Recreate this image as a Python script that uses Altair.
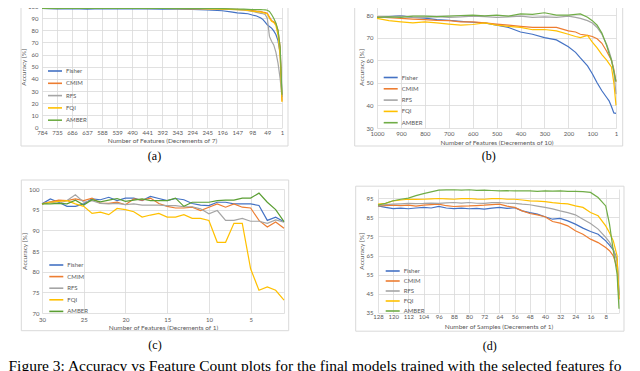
import altair as alt
import pandas as pd

METHODS = ["Fisher", "CMIM", "RFS", "FQI", "AMBER"]
COLORS = ["#4472C4", "#ED7D31", "#A5A5A5", "#FFC000", "#70AD47"]
COLORS_C = ["#4472C4", "#ED7D31", "#A5A5A5", "#FFC000", "#5A9E32"]

# ---------------- panel (a) ----------------
x_a = [784, 735, 686, 637, 588, 539, 490, 441, 392, 343, 294, 245, 196, 168, 147,
       126, 112, 98, 84, 70, 63, 56, 49, 42, 35, 28, 21, 14, 7, 1]
fisher_a = [98.0, 97.6, 97.8, 97.5, 97.8, 97.6, 97.9, 97.6, 97.5, 97.4, 97.2, 96.8, 96.1, 95.2, 94.4,
            94.0, 93.6, 92.6, 91.8, 90.2, 88.8, 86.8, 84.5, 83.2, 81.8, 79.5, 76.5, 71.5, 61.0, 25.0]
cmim_a = [98.2, 98.0, 98.3, 98.1, 98.2, 98.0, 98.3, 98.1, 98.0, 98.1, 97.9, 97.8, 97.5, 97.3, 97.2,
          96.9, 96.6, 96.2, 95.8, 95.5, 95.0, 94.6, 94.0, 91.0, 88.0, 87.0, 85.5, 80.0, 66.0, 22.0]
rfs_a = [98.1, 97.9, 98.2, 98.0, 98.1, 98.0, 98.2, 97.9, 98.0, 98.0, 97.8, 97.7, 97.6, 97.3, 97.0,
         96.6, 96.2, 95.5, 94.8, 94.0, 93.6, 93.0, 90.0, 75.0, 71.0, 68.0, 62.0, 53.0, 40.0, 25.0]
fqi_a = [98.3, 98.1, 98.0, 98.2, 98.0, 98.2, 98.0, 98.2, 98.1, 97.9, 98.0, 97.7, 97.4, 97.1, 97.0,
         96.7, 96.3, 95.8, 95.4, 95.0, 94.5, 94.0, 93.5, 90.0, 87.5, 86.5, 84.0, 76.0, 58.0, 21.0]
amber_a = [98.0, 98.2, 98.1, 98.3, 98.0, 98.2, 98.1, 98.0, 98.2, 98.0, 98.1, 98.0, 97.8, 97.6, 97.5,
           97.4, 97.2, 97.0, 97.1, 97.0, 96.9, 96.8, 96.5, 95.5, 93.0, 90.0, 86.0, 80.0, 66.0, 27.0]

# ---------------- panel (b) ----------------
x_b = [1000, 950, 900, 850, 800, 750, 700, 650, 600, 550, 500, 450, 400, 350, 300,
       250, 200, 170, 150, 120, 100, 80, 60, 40, 30, 20, 10, 1]
fisher_b = [79.0, 79.3, 79.6, 79.0, 78.6, 78.0, 77.7, 77.2, 76.8, 76.5, 75.5, 74.5, 72.5, 71.5, 70.0,
            69.0, 66.0, 63.5, 61.0, 57.5, 54.0, 50.0, 46.5, 43.5, 42.0, 39.5, 36.7, 36.5]
cmim_b = [79.2, 78.8, 78.5, 78.2, 78.0, 77.6, 77.5, 77.0, 77.0, 76.5, 76.0, 75.5, 75.0, 74.5, 74.5,
          74.5, 73.0, 72.5, 71.5, 71.0, 70.5, 69.5, 67.5, 64.0, 62.0, 60.0, 56.0, 50.5]
rfs_b = [79.0, 79.2, 79.5, 79.0, 79.0, 79.3, 79.0, 79.2, 79.5, 79.3, 79.0, 79.2, 79.5, 79.0, 79.2,
         79.0, 79.5, 79.0, 78.5, 77.5, 76.5, 74.5, 71.5, 67.0, 64.0, 60.5, 55.0, 45.0]
fqi_b = [78.5, 77.5, 77.0, 76.5, 77.0, 76.5, 76.0, 75.5, 75.8, 76.5, 75.5, 75.0, 74.5, 73.5, 73.6,
         73.0, 71.5, 70.5, 70.0, 71.0, 68.0, 65.5, 62.5, 60.0, 58.5, 57.0, 50.0, 40.0]
amber_b = [79.0, 79.2, 79.0, 79.5, 79.5, 79.3, 79.5, 79.8, 80.0, 79.6, 80.0, 79.5, 80.5, 80.3, 81.0,
           80.0, 80.0, 80.3, 80.5, 79.0, 77.5, 75.5, 72.0, 66.5, 63.0, 60.0, 55.0, 50.5]

# ---------------- panel (c) ----------------
x_c = [30, 29, 28, 27, 26, 25, 24, 23, 22, 21, 20, 19, 18, 17, 16,
       15, 14, 13, 12, 11, 10, 9, 8, 7, 6, 5, 4, 3, 2, 1]
fisher_c = [96.4, 97.6, 96.8, 95.8, 95.8, 96.4, 97.6, 97.4, 98.0, 97.2, 97.8, 97.8, 97.2, 98.2, 97.7,
            97.2, 97.7, 97.4, 96.5, 96.1, 96.0, 96.8, 96.8, 96.4, 96.4, 96.4, 96.0, 92.4, 93.2, 92.1]
cmim_c = [96.4, 96.9, 97.3, 97.2, 97.6, 97.2, 97.8, 96.5, 96.5, 96.8, 96.2, 97.6, 97.3, 97.8, 96.5,
          95.8, 95.4, 95.4, 95.6, 94.8, 95.6, 96.4, 95.6, 96.4, 95.6, 95.4, 92.4, 90.8, 92.0, 90.5]
rfs_c = [96.4, 96.8, 96.5, 97.2, 98.6, 96.8, 97.2, 96.5, 96.4, 96.5, 96.2, 96.4, 96.1, 96.1, 96.1,
         96.0, 96.0, 95.7, 95.7, 95.2, 94.0, 94.8, 92.4, 92.4, 92.9, 92.2, 92.2, 91.7, 92.5, 92.0]
fqi_c = [96.4, 96.8, 97.0, 97.2, 96.4, 95.8, 94.1, 94.4, 93.8, 95.3, 95.0, 94.5, 93.2, 93.7, 94.1,
         93.2, 93.2, 93.8, 92.9, 92.9, 92.4, 87.1, 87.1, 91.7, 91.7, 80.7, 75.5, 76.3, 75.5, 73.1]
amber_c = [96.4, 96.4, 96.5, 96.4, 97.3, 96.1, 97.4, 96.9, 97.3, 97.7, 97.0, 97.3, 97.6, 97.2, 97.2,
           97.2, 97.8, 95.8, 96.8, 96.8, 96.8, 97.2, 97.3, 97.3, 97.8, 97.8, 99.0, 96.8, 95.0, 92.1]

# ---------------- panel (d) ----------------
x_d = [128, 124, 120, 116, 112, 108, 104, 100, 96, 92, 88, 84, 80, 76, 72, 68, 64, 60,
       56, 52, 48, 44, 40, 36, 32, 28, 24, 20, 16, 12, 8, 6, 4, 2, 1]
fisher_d = [91.1, 90.3, 89.7, 89.9, 89.6, 90.0, 90.3, 90.0, 90.8, 90.0, 89.7, 89.9, 89.6, 89.8, 89.4,
            89.9, 90.3, 89.8, 90.2, 88.5, 87.6, 86.8, 85.4, 84.1, 84.5, 83.2, 81.5, 79.4, 77.6, 76.2,
            72.7, 70.5, 68.0, 63.0, 44.0]
cmim_d = [91.1, 91.3, 91.5, 91.2, 91.5, 91.0, 91.5, 91.8, 92.0, 91.2, 90.8, 91.0, 91.1, 91.3, 91.5,
          91.8, 92.0, 91.0, 90.3, 88.5, 87.1, 86.4, 85.4, 82.9, 82.0, 80.6, 78.0, 76.2, 73.6, 71.8,
          69.2, 67.5, 64.8, 58.7, 42.0]
rfs_d = [91.5, 91.8, 92.0, 92.2, 92.4, 92.3, 92.4, 92.6, 92.4, 92.7, 92.9, 92.6, 92.9, 92.5, 92.4,
         92.8, 92.9, 92.5, 92.4, 92.0, 91.7, 91.0, 90.3, 89.5, 88.5, 87.6, 86.4, 84.1, 81.8, 78.9,
         74.5, 72.0, 68.3, 62.0, 45.0]
fqi_d = [92.0, 92.4, 93.8, 94.2, 94.6, 94.5, 94.6, 94.8, 95.0, 94.8, 94.6, 94.9, 95.0, 94.7, 94.6,
         94.9, 95.0, 94.6, 94.6, 94.2, 93.8, 93.6, 93.4, 92.8, 92.4, 92.2, 91.1, 90.3, 87.6, 85.9,
         80.6, 77.0, 72.7, 64.8, 42.0]
amber_d = [91.5, 92.5, 93.8, 94.6, 95.2, 96.5, 97.6, 98.5, 99.4, 99.5, 99.6, 99.4, 99.6, 99.3, 99.4,
           99.2, 99.0, 99.1, 99.0, 99.0, 99.0, 98.8, 99.0, 98.9, 99.0, 98.8, 98.7, 98.6, 98.2, 95.5,
           91.1, 81.5, 67.5, 55.2, 37.0]

ticks_a = [784, 735, 686, 637, 588, 539, 490, 441, 392, 343, 294, 245, 196, 147, 98, 49, 1]
ticks_b = [1000, 900, 800, 700, 600, 500, 400, 300, 200, 100, 1]
ticks_c = [30, 25, 20, 15, 10, 5, 1]
ticks_d = [128, 120, 112, 104, 96, 88, 80, 72, 64, 56, 48, 40, 32, 24, 16, 8, 1]

CAPTION = "Figure 3: Accuracy vs Feature Count plots for the final models trained with the selected features fo"

GRID = "#d9d9d9"
TXT = "#595959"
FONT = "Lato"
LINE_SYMBOL = "M-1.4,0L1.4,0"


def long_df(xs, series):
    rows = []
    for name, vals in zip(METHODS, series):
        for i, (x, v) in enumerate(zip(xs, vals)):
            rows.append({"x": x, "acc": v, "method": name, "i": i})
    return pd.DataFrame(rows)


def panel(xs, series, x_dom, x_ticks, hide_last, y_dom, y_ticks, w, h, x_title,
          box, leg, tag, tag_off, colors, lab_pad_x, title_pad_x, lab_pad_y, title_pad_y,
          bold_amber=False):
    df = long_df(xs, series)
    label_expr = "datum.value == 1 ? '' : datum.label" if hide_last else "datum.label"
    enc = dict(
        x=alt.X("x:Q", scale=alt.Scale(domain=x_dom, nice=False, zero=False),
                axis=alt.Axis(values=x_ticks, title=x_title, labelExpr=label_expr, format="d",
                              labelPadding=lab_pad_x, titlePadding=title_pad_x,
                              labelFlush=False, labelOverlap=False)),
        y=alt.Y("acc:Q", scale=alt.Scale(domain=y_dom, nice=False, zero=False),
                axis=alt.Axis(values=y_ticks, title="Accuracy [%]",
                              labelPadding=lab_pad_y, titlePadding=title_pad_y)),
        color=alt.Color("method:N", scale=alt.Scale(domain=METHODS, range=colors),
                        legend=alt.Legend(orient="none", legendX=leg[0], legendY=leg[1],
                                          title=None, symbolType=LINE_SYMBOL, symbolSize=100,
                                          symbolStrokeWidth=1.6, labelFontSize=6,
                                          labelColor=TXT, labelFont=FONT,
                                          rowPadding=leg[2], labelOffset=5, padding=0)),
        order=alt.Order("i:Q"),
    )
    if bold_amber:
        enc["strokeWidth"] = alt.StrokeWidth(
            "method:N", scale=alt.Scale(domain=METHODS, range=[1.2, 1.2, 1.2, 1.2, 1.8]),
            legend=None)
    lines = alt.Chart(df).mark_line(strokeWidth=1.2).encode(**enc)
    dummy = pd.DataFrame({"k": [0]})
    frame = alt.Chart(dummy).mark_rect(fillOpacity=0, stroke=GRID, strokeWidth=1).encode(
        x=alt.value(box[0]), x2=alt.value(w + box[1]),
        y=alt.value(box[2]), y2=alt.value(h + box[3]))
    return alt.layer(frame, lines).properties(
        width=w, height=h,
        title=alt.TitleParams(tag, orient="bottom", anchor="middle", frame="bounds",
                              font="Liberation Serif", fontSize=12, fontWeight="normal",
                              color="black", offset=tag_off))


pa = panel(x_a, [fisher_a, cmim_a, rfs_a, fqi_a, amber_a], [784, 1], ticks_a, False,
           [0, 100], list(range(0, 101, 10)), 240, 121.5,
           "Number of Features (Decrements of 7)", (-21, 6, -7, 18.5), (7, 59, 2.3), "(a)", 4,
           COLORS, 2, 2, 4, 1)
pb = panel(x_b, [fisher_b, cmim_b, rfs_b, fqi_b, amber_b], [1000, 1], ticks_b, False,
           [30, 84], list(range(30, 81, 10)), 239, 122,
           "Number of Features (Decrements of 10)", (-22.3, 6.7, -7, 18), (7.7, 65.5, 1.3), "(b)", 4,
           COLORS, 2.5, 2.5, 4, 2)
pc = panel(x_c, [fisher_c, cmim_c, rfs_c, fqi_c, amber_c], [30, 1], ticks_c, True,
           [70, 100], list(range(70, 101, 5)), 242, 124,
           "Number of Features (Decrements of 1)", (-20.7, 4.7, -9, 17.7), (8.3, 70, 1.6), "(c)", 9,
           COLORS_C, 3.5, 1.5, 3, 1, bold_amber=True)
pd_ = panel(x_d, [fisher_d, cmim_d, rfs_d, fqi_d, amber_d], [128, 1], ticks_d, True,
            [35, 100], list(range(35, 96, 10)), 241, 123.5,
            "Number of Samples (Decrements of 1)", (-22.3, 5, -2.8, 18.7), (8.7, 76, 0), "(d)", 9,
            COLORS, 1, 3.5, 5, 2)

row1 = alt.hconcat(pa, pb, spacing=65).resolve_scale(color="independent").resolve_legend(color="independent")
row2 = alt.hconcat(pc, pd_, spacing=65).resolve_scale(color="independent").resolve_legend(color="independent")

chart = alt.vconcat(row1, row2, spacing=17).resolve_scale(
    color="independent").resolve_legend(color="independent").properties(
    title=alt.TitleParams(CAPTION, orient="bottom", anchor="start", dx=-12, offset=7,
                          font="Liberation Serif", fontSize=15.5, fontWeight="normal",
                          color="black"),
    padding={"left": 0, "top": -10, "right": 0, "bottom": 0},
    background="white",
).configure_view(strokeWidth=0).configure_axis(
    grid=True, gridColor=GRID, gridWidth=0.8, domain=False, ticks=False,
    labelFont=FONT, labelFontSize=6, labelColor=TXT,
    titleFont=FONT, titleFontSize=6.5, titleColor=TXT, titleFontWeight="normal",
)

chart.save("out.html", embed_options={"renderer": "svg", "actions": False})
